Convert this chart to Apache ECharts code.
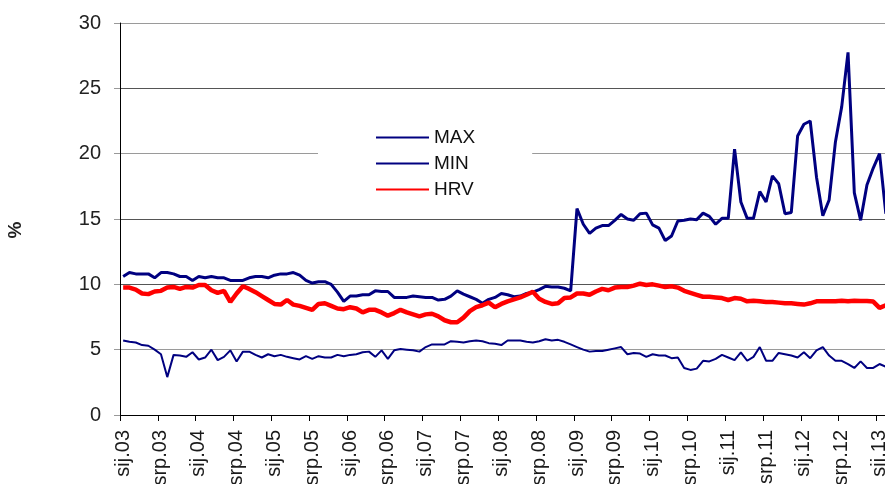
<!DOCTYPE html>
<html>
<head>
<meta charset="utf-8">
<title>MAX / MIN / HRV</title>
<script src="https://cdn.jsdelivr.net/npm/echarts@6/dist/echarts.min.js"></script>
<style>
  html, body { margin: 0; padding: 0; background: #fff; }
  #main { width: 885px; height: 484px; }
</style>
</head>
<body>
<div id="main"></div>
<script>
// mjeseci (hr) i godine -> kategorije sij.03 ... velj.13
var months = ['sij', 'velj', 'ožu', 'tra', 'svi', 'lip', 'srp', 'kol', 'ruj', 'lis', 'stu', 'pro'];
var years = ['03', '04', '05', '06', '07', '08', '09', '10', '11', '12', '13'];
var monthsInLastYear = 2;

var maxData = [
  10.6, 10.9, 10.8, 10.8, 10.8, 10.5, 10.9, 10.9, 10.8, 10.6, 10.6, 10.3,
  10.6, 10.5, 10.6, 10.5, 10.5, 10.3, 10.3, 10.3, 10.5, 10.6, 10.6, 10.5,
  10.7, 10.8, 10.8, 10.9, 10.7, 10.3, 10.1, 10.2, 10.2, 10.0, 9.4, 8.7,
  9.1, 9.1, 9.2, 9.2, 9.5, 9.45, 9.45, 9.0, 9.0, 9.0, 9.1, 9.05,
  9.0, 9.0, 8.8, 8.85, 9.1, 9.5, 9.25, 9.05, 8.85, 8.55, 8.85, 9.0,
  9.3, 9.2, 9.05, 9.1, 9.3, 9.4, 9.6, 9.85, 9.8, 9.8, 9.7, 9.5,
  15.8, 14.6, 13.9, 14.3, 14.5, 14.5, 14.9, 15.35, 15.0, 14.9, 15.4, 15.45,
  14.55, 14.3, 13.35, 13.7, 14.85, 14.9, 15.0, 14.95, 15.45, 15.2, 14.6, 15.05,
  15.05, 20.35, 16.3, 15.05, 15.05, 17.1, 16.3, 18.3, 17.7, 15.4, 15.5, 21.35,
  22.25, 22.5, 18.2, 15.25, 16.45, 20.9, 23.6, 27.75, 17.0, 14.9, 17.6, 18.9,
  20.0, 15.4
];

var minData = [
  5.7, 5.6, 5.55, 5.35, 5.3, 5.0, 4.65, 2.9, 4.6, 4.55, 4.45, 4.8,
  4.25, 4.4, 5.0, 4.2, 4.45, 4.95, 4.1, 4.85, 4.85, 4.6, 4.4, 4.65,
  4.5, 4.6, 4.45, 4.35, 4.25, 4.5, 4.3, 4.5, 4.4, 4.4, 4.6, 4.5,
  4.6, 4.65, 4.8, 4.85, 4.45, 4.95, 4.3, 4.95, 5.05, 5.0, 4.95, 4.85,
  5.2, 5.4, 5.4, 5.4, 5.65, 5.6, 5.55, 5.65, 5.7, 5.65, 5.5, 5.45,
  5.35, 5.7, 5.7, 5.7, 5.6, 5.55, 5.65, 5.8, 5.7, 5.75, 5.6, 5.4,
  5.2, 5.0, 4.85, 4.9, 4.9, 5.0, 5.1, 5.2, 4.65, 4.75, 4.7, 4.45,
  4.65, 4.55, 4.55, 4.35, 4.4, 3.6, 3.45, 3.55, 4.15, 4.1, 4.3, 4.6,
  4.4, 4.2, 4.8, 4.15, 4.45, 5.2, 4.15, 4.15, 4.75, 4.65, 4.55, 4.4,
  4.8, 4.35, 4.95, 5.2, 4.55, 4.15, 4.15, 3.9, 3.6, 4.1, 3.6, 3.6,
  3.9, 3.7
];

var hrvData = [
  9.75, 9.75, 9.6, 9.3, 9.25, 9.45, 9.5, 9.75, 9.8, 9.65, 9.8, 9.75,
  9.95, 9.95, 9.55, 9.35, 9.5, 8.65, 9.3, 9.85, 9.65, 9.4, 9.1, 8.8,
  8.5, 8.45, 8.8, 8.45, 8.35, 8.2, 8.05, 8.5, 8.55, 8.35, 8.15, 8.1,
  8.25, 8.15, 7.85, 8.05, 8.05, 7.85, 7.6, 7.8, 8.05, 7.85, 7.7, 7.55,
  7.7, 7.75, 7.55, 7.25, 7.1, 7.1, 7.45, 7.95, 8.25, 8.4, 8.6, 8.25,
  8.5, 8.7, 8.85, 9.0, 9.2, 9.43, 8.9, 8.65, 8.5, 8.55, 8.95, 9.0,
  9.3, 9.3, 9.2, 9.45, 9.65, 9.55, 9.75, 9.8, 9.8, 9.9, 10.05, 9.95,
  10.0, 9.9, 9.8, 9.85, 9.75, 9.5, 9.35, 9.2, 9.05, 9.05, 9.0, 8.95,
  8.8, 8.95, 8.9, 8.7, 8.75, 8.7, 8.65, 8.65, 8.6, 8.55, 8.55, 8.5,
  8.45, 8.55, 8.7, 8.7, 8.7, 8.7, 8.75, 8.7, 8.75, 8.72, 8.72, 8.68,
  8.2, 8.4
];

var categories = [];
years.forEach(function (y, yi) {
  var n = yi === years.length - 1 ? monthsInLastYear : 12;
  for (var m = 0; m < n; m++) {
    categories.push(months[m] + '.' + y);
  }
});

var chart = echarts.init(document.getElementById('main'));

var option = {
  animation: false,
  backgroundColor: '#fff',
  textStyle: { fontFamily: 'Liberation Sans, Arial, sans-serif' },
  // desni i donji rub su odrezani kao na slici
  grid: { left: 120, top: 23, right: -4, bottom: 69, outerBoundsMode: 'none' },
  legend: {
    orient: 'vertical',
    left: 318,
    top: 110,
    padding: [18, 57, 12, 57],
    itemWidth: 53,
    itemHeight: 14,
    itemGap: 7,
    backgroundColor: '#fff',
    itemStyle: { color: 'rgba(0,0,0,0)', borderColor: 'rgba(0,0,0,0)', borderWidth: 0 },
    textStyle: { fontSize: 19, color: '#111' },
    data: ['MAX', 'MIN', 'HRV']
  },
  xAxis: {
    type: 'category',
    data: categories,
    boundaryGap: true,
    axisLine: { lineStyle: { color: '#000', width: 1 } },
    axisTick: { show: true, interval: 5, length: 6, lineStyle: { color: '#000' } },
    axisLabel: { interval: 5, rotate: 90, fontSize: 20, color: '#1a1a1a', margin: 15 },
    splitLine: { show: false }
  },
  yAxis: {
    type: 'value',
    min: 0,
    max: 30,
    interval: 5,
    name: '%',
    nameLocation: 'middle',
    nameRotate: 90,
    nameGap: 95,
    nameTextStyle: { fontSize: 19, fontWeight: 'bold', color: '#222', padding: [0, 22, 0, 0] },
    axisLine: { show: true, lineStyle: { color: '#000' } },
    axisTick: { show: true, length: 6, lineStyle: { color: '#999' } },
    axisLabel: { fontSize: 20, color: '#222', margin: 19 },
    splitLine: {
      show: true,
      lineStyle: { color: ['#000', '#9a9a9a', '#555', '#555', '#9a9a9a', '#555', '#9a9a9a'], width: 1 }
    }
  },
  series: [
    {
      name: 'MAX', type: 'line', data: maxData,
      symbol: 'none', showSymbol: false,
      lineStyle: { color: '#000080', width: 3 },
      itemStyle: { color: '#000080' }
    },
    {
      name: 'MIN', type: 'line', data: minData,
      symbol: 'none', showSymbol: false,
      lineStyle: { color: '#000080', width: 2 },
      itemStyle: { color: '#000080' }
    },
    {
      name: 'HRV', type: 'line', data: hrvData,
      symbol: 'none', showSymbol: false,
      lineStyle: { color: '#ff0000', width: 4.5 },
      itemStyle: { color: '#ff0000' }
    }
  ]
};

chart.setOption(option);
</script>
</body>
</html>
